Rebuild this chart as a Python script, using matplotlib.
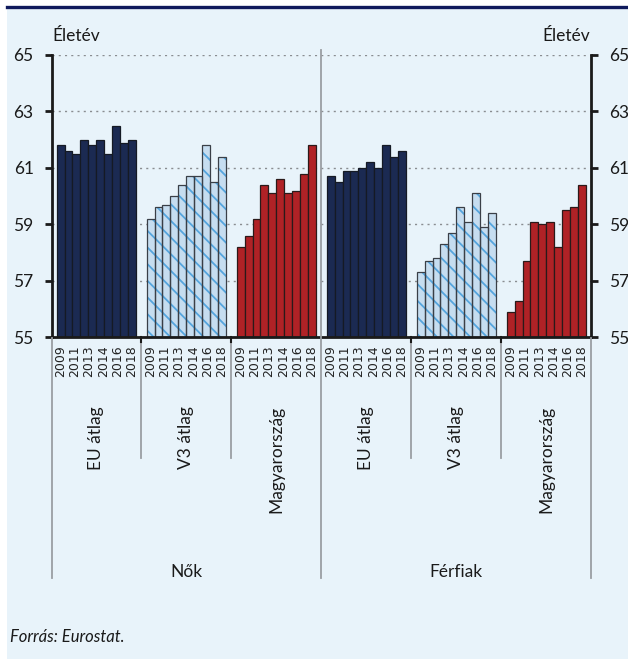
import matplotlib.pyplot as plt
import matplotlib.transforms as mtransforms
from matplotlib.patches import Rectangle
from matplotlib.lines import Line2D

plt.rcParams['font.family'] = ['Lato', 'DejaVu Sans']
plt.rcParams['hatch.linewidth'] = 1.3

# Data: life expectancy in good health (years), 2009-2018
years = ['2009', '2011', '2013', '2014', '2016', '2018']
genders = ['Nők', 'Férfiak']
groups = ['EU átlag', 'V3 átlag', 'Magyarország']

nok_eu = [61.8, 61.6, 61.5, 62.0, 61.8, 62.0, 61.5, 62.5, 61.9, 62.0]
nok_v3 = [59.2, 59.6, 59.7, 60.0, 60.4, 60.7, 60.7, 61.8, 60.5, 61.4]
nok_hu = [58.2, 58.6, 59.2, 60.4, 60.1, 60.6, 60.1, 60.2, 60.8, 61.8]
ferfi_eu = [60.7, 60.5, 60.9, 60.9, 61.0, 61.2, 61.0, 61.8, 61.4, 61.6]
ferfi_v3 = [57.3, 57.7, 57.8, 58.3, 58.7, 59.6, 59.1, 60.1, 58.9, 59.4]
ferfi_hu = [55.9, 56.3, 57.7, 59.1, 59.0, 59.1, 58.2, 59.5, 59.6, 60.4]

series = [nok_eu, nok_v3, nok_hu, ferfi_eu, ferfi_v3, ferfi_hu]
styles = ['eu', 'v3', 'hu', 'eu', 'v3', 'hu']

navy = '#1b2a52'
red = '#b02226'
v3_fill = '#c6ddf0'
v3_hatch = '#55a5de'
bg = '#e8f3fa'
sep = '#9a9ea3'

W, H = 628, 659
fig = plt.figure(figsize=(W / 100, H / 100), dpi=100, facecolor='white')
fig.patches.append(Rectangle((7 / W, 0), 1, 1 - 8 / H, transform=fig.transFigure,
                             facecolor=bg, edgecolor='none', zorder=-10))
fig.lines.append(Line2D([7 / W, 1], [1 - 6.5 / H] * 2, transform=fig.transFigure,
                        color='#0f1a5c', lw=2.4))

ax = fig.add_axes([51.7 / W, 1 - 337.3 / H, 539 / W, 282.3 / H])
ax.set_facecolor('none')

period = 11.4
n = 10
for g, (vals, st) in enumerate(zip(series, styles)):
    xs = [g * period + i for i in range(n)]
    heights = [v - 55 for v in vals]
    if st == 'eu':
        ax.bar(xs, heights, bottom=55, width=1.0, color=navy,
               edgecolor='#151a24', linewidth=0.9, zorder=3)
    elif st == 'hu':
        ax.bar(xs, heights, bottom=55, width=1.0, color=red,
               edgecolor='#2a1a1a', linewidth=0.9, zorder=3)
    else:
        ax.bar(xs, heights, bottom=55, width=1.0, color=v3_fill,
               edgecolor=v3_hatch, hatch='\\\\', linewidth=0, zorder=3)
        ax.bar(xs, heights, bottom=55, width=1.0, fill=False,
               edgecolor='#3a3f47', linewidth=0.9, zorder=4)

ax.set_xlim(-1.13, 5 * period + 9 + 1.13)
ax.set_ylim(55, 65)
ax.set_yticks([55, 57, 59, 61, 63, 65])
ax.grid(axis='y', color='#8a8d91', linestyle=(0, (1.5, 3)), linewidth=1.0, zorder=1)
ax.set_xticks([])

ax.spines['top'].set_visible(False)
for side in ['left', 'right', 'bottom']:
    ax.spines[side].set_color('#1a1a1a')
    ax.spines[side].set_linewidth(2.0)
ax.spines['bottom'].set_zorder(5)

ax.tick_params(axis='y', which='both', direction='out', length=5, width=2,
               color='#1a1a1a', labelsize=12.5, labelcolor='#1a1a1a',
               left=True, right=True, labelleft=True, labelright=True, pad=8)

# separators and hierarchical category labels below the axis
tr = mtransforms.blended_transform_factory(ax.transData, fig.transFigure)


def fy(px):
    return 1 - px / H


xl, xr = ax.get_xlim()
mid_gender = 2 * period + 9 + (period - 9) / 2
fig.lines.append(Line2D([mid_gender] * 2, [fy(50), fy(578)], transform=tr,
                        color=sep, lw=1.3, zorder=2))
for x in [xl, xr]:
    fig.lines.append(Line2D([x] * 2, [fy(338), fy(578)], transform=tr,
                            color=sep, lw=1.3))
for g in [0, 1, 3, 4]:
    x = g * period + 9 + (period - 9) / 2
    fig.lines.append(Line2D([x] * 2, [fy(338), fy(458)], transform=tr,
                            color=sep, lw=1.3))
    fig.lines.append(Line2D([x] * 2, [fy(337), fy(342)], transform=tr,
                            color='#1a1a1a', lw=1.5))

for g in range(6):
    for k, y in enumerate(years):
        x = g * period + k * 9 / 5
        ax.text(x, fy(345), y, transform=tr, rotation=90, ha='center', va='top',
                fontsize=9, family='DejaVu Sans', color='#222222')
    cx = g * period + 4.5
    ax.text(cx, fy(406), groups[g % 3], transform=tr, rotation=90, ha='center',
            va='top', fontsize=12.5, color='#1a1a1a')

for i, name in enumerate(genders):
    cx = (i * 3 * period + (i * 3 + 2) * period + 9) / 2
    ax.text(cx, fy(572), name, transform=tr, ha='center', va='center',
            fontsize=12.5, color='#1a1a1a')

fig.text(52 / W, fy(36), 'Életév', ha='left', va='center', fontsize=12.5, color='#1a1a1a')
fig.text(590 / W, fy(36), 'Életév', ha='right', va='center', fontsize=12.5, color='#1a1a1a')
fig.text(10 / W, fy(637), 'Forrás: Eurostat.', ha='left', va='center', fontsize=12,
         style='italic', color='#1a1a1a')

fig.savefig('out.png', dpi=100, facecolor=fig.get_facecolor())
